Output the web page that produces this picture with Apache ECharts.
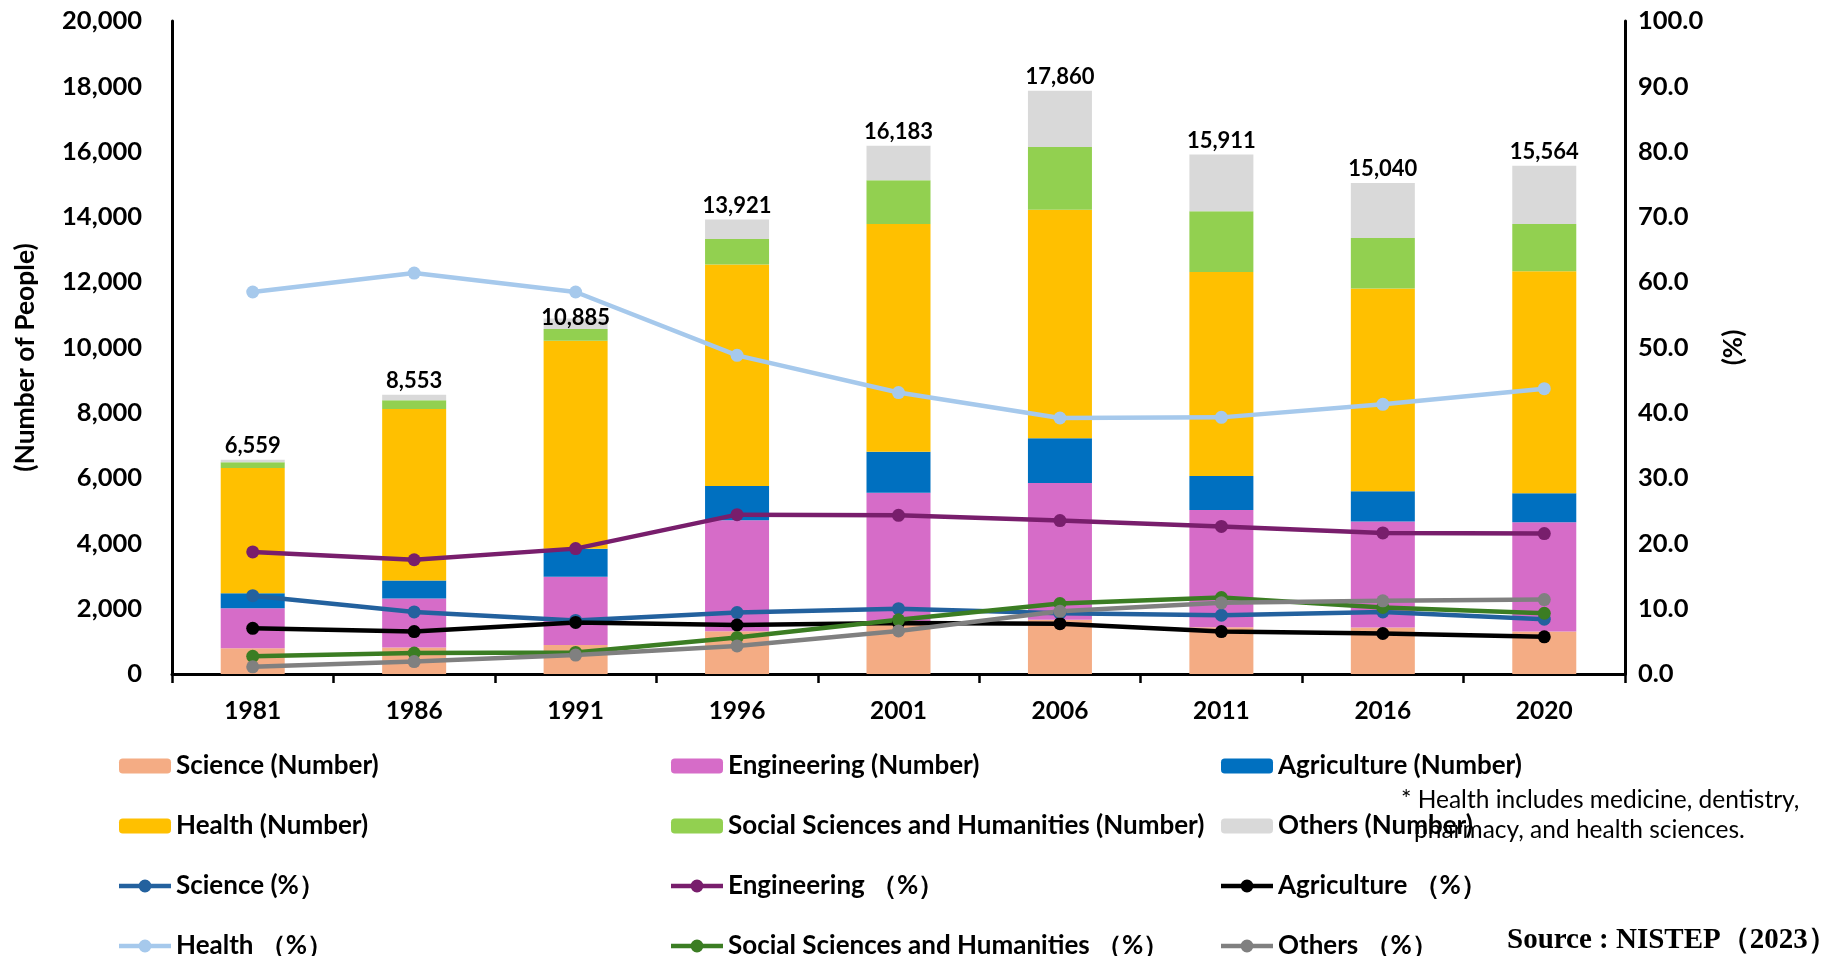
<!DOCTYPE html>
<html><head><meta charset="utf-8">
<script src="https://cdn.jsdelivr.net/npm/echarts@6/dist/echarts.min.js"></script>
<style>html,body{margin:0;padding:0;background:#fff}#c{width:1822px;height:956px}</style>
</head><body><div id="c"></div>
<script>
const years = ['1981','1986','1991','1996','2001','2006','2011','2016','2020'];
const totals = [6559, 8553, 10885, 13921, 16183, 17860, 15911, 15040, 15564];
const scienceNum = [787, 815, 888, 1310, 1620, 1660, 1435, 1425, 1300];
const engineeringNum = [1225, 1497, 2092, 3400, 3930, 4190, 3590, 3245, 3345];
const agricultureNum = [460, 554, 858, 1045, 1260, 1370, 1040, 925, 890];
const healthNum = [3840, 5250, 6370, 6790, 6970, 7000, 6245, 6215, 6800];
const socialNum = [174, 271, 359, 780, 1340, 1920, 1860, 1540, 1450];
const othersNum = [73, 166, 318, 596, 1063, 1720, 1741, 1690, 1779];
const sciencePct = [12.0, 9.5, 8.2, 9.4, 10.0, 9.3, 9.0, 9.5, 8.4];
const engineeringPct = [18.7, 17.5, 19.2, 24.4, 24.3, 23.5, 22.6, 21.6, 21.5];
const agriculturePct = [7.0, 6.5, 7.9, 7.5, 7.8, 7.7, 6.5, 6.2, 5.7];
const healthPct = [58.5, 61.4, 58.5, 48.8, 43.1, 39.2, 39.3, 41.3, 43.7];
const socialPct = [2.7, 3.2, 3.3, 5.6, 8.3, 10.8, 11.7, 10.2, 9.3];
const othersPct = [1.1, 1.9, 2.9, 4.3, 6.6, 9.6, 10.9, 11.2, 11.4];
const leftTicks = {min: 0, max: 20000, interval: 2000};
const rightTicks = {min: 0, max: 100, interval: 10};

const FONT = 'Lato';
const chart = echarts.init(document.getElementById('c'), null, {renderer: 'canvas'});

function bar(name, data, color) {
  return {
    name, type: 'bar', stack: 'num', data, barWidth: 64,
    itemStyle: {color},
    z: 2
  };
}
function line(name, data, color) {
  return {
    name, type: 'line', yAxisIndex: 1, data,
    symbol: 'circle', symbolSize: 13,
    lineStyle: {color, width: 4.5},
    itemStyle: {color},
    z: 5
  };
}
const N = {
  sn: 'Science (Number)', en: 'Engineering (Number)', an: 'Agriculture (Number)',
  hn: 'Health (Number)', son: 'Social Sciences and Humanities (Number)', on: 'Others (Number)',
  sp: 'Science (%\uFF09', ep: 'Engineering \uFF08%\uFF09', ap: 'Agriculture \uFF08%\uFF09',
  hp: 'Health \uFF08%\uFF09', sop: 'Social Sciences and Humanities \uFF08%\uFF09', op: 'Others \uFF08%\uFF09'
};
const LINE_ICON = 'path://M0,5.25 L52,5.25 L52,9.75 L0,9.75 Z M19.5,7.5 A6.5,6.5 0 1 1 32.5,7.5 A6.5,6.5 0 1 1 19.5,7.5 Z';
const li = name => ({name, icon: LINE_ICON});
const legendBase = {
  orient: 'vertical', top: 753, height: 260, padding: 0, itemGap: 34,
  itemWidth: 52, itemHeight: 15,
  textStyle: {fontFamily: FONT, fontWeight: 'bold', fontSize: 26, color: '#000', lineHeight: 26},
  selectedMode: false
};
const axisLabelStyle = {fontFamily: FONT, fontWeight: 'bold', fontSize: 25.5, color: '#000'};

const othersSeries = bar(N.on, othersNum.map((v, i) => i === 2 ? {value: v, label: {offset: [0, 13]}} : v), '#D9D9D9');
othersSeries.label = {
  show: true, position: 'top', distance: 3,
  color: '#000', fontFamily: FONT, fontWeight: 'bold', fontSize: 22,
  formatter: p => totals[p.dataIndex].toLocaleString('en-US')
};

chart.setOption({
  animation: false,
  backgroundColor: '#fff',
  grid: {left: 172, right: 197, top: 21, bottom: 282, containLabel: false},
  legend: [
    Object.assign({}, legendBase, {left: 119, data: [N.sn, N.hn, li(N.sp), li(N.hp)]}),
    Object.assign({}, legendBase, {left: 671, data: [N.en, N.son, li(N.ep), li(N.sop)]}),
    Object.assign({}, legendBase, {left: 1221, data: [N.an, N.on, li(N.ap), li(N.op)]})
  ],
  xAxis: {
    type: 'category', data: years, boundaryGap: true,
    axisLine: {lineStyle: {color: '#000', width: 3}},
    axisTick: {show: true, length: 9, lineStyle: {color: '#000', width: 2.5}},
    axisLabel: Object.assign({margin: 25}, axisLabelStyle, {fontSize: 24.5})
  },
  yAxis: [
    {
      type: 'value', min: leftTicks.min, max: leftTicks.max, interval: leftTicks.interval,
      name: '(Number of People)', nameLocation: 'middle', nameRotate: 90, nameGap: 133,
      nameTextStyle: {fontFamily: FONT, fontWeight: 'bold', fontSize: 26.5, color: '#000', padding: [0, 20, 0, 0]},
      axisLine: {show: true, lineStyle: {color: '#000', width: 3}},
      axisTick: {show: false}, splitLine: {show: false},
      axisLabel: Object.assign({margin: 30, formatter: v => v.toLocaleString('en-US')}, axisLabelStyle)
    },
    {
      type: 'value', min: rightTicks.min, max: rightTicks.max, interval: rightTicks.interval,
      name: '(%)', nameLocation: 'middle', nameRotate: 90, nameGap: 96,
      nameTextStyle: {fontFamily: FONT, fontWeight: 'bold', fontSize: 26, color: '#000'},
      axisLine: {show: true, lineStyle: {color: '#000', width: 3}},
      axisTick: {show: false}, splitLine: {show: false},
      axisLabel: Object.assign({margin: 13, formatter: v => v.toFixed(1)}, axisLabelStyle)
    }
  ],
  series: [
    bar(N.sn, scienceNum, '#F4AC84'),
    bar(N.en, engineeringNum, '#D66CC8'),
    bar(N.an, agricultureNum, '#0070C0'),
    bar(N.hn, healthNum, '#FFC000'),
    bar(N.son, socialNum, '#92D050'),
    othersSeries,
    line(N.sp, sciencePct, '#23619E'),
    line(N.ep, engineeringPct, '#781E6C'),
    line(N.ap, agriculturePct, '#000000'),
    line(N.hp, healthPct, '#A6C9EC'),
    line(N.sop, socialPct, '#3B7D23'),
    line(N.op, othersPct, '#808080')
  ],
  graphic: [
    {type: 'text', left: 1401, top: 788, style: {text: '* Health includes medicine, dentistry,', font: '24.5px Lato', fill: '#000'}},
    {type: 'text', left: 1414, top: 818, style: {text: 'pharmacy, and health sciences.', font: '24.5px Lato', fill: '#000'}},
    {type: 'text', left: 1507, top: 926, style: {text: 'Source : NISTEP\uFF082023\uFF09', font: 'bold 29px "Liberation Serif"', fill: '#000'}}
  ]
});
</script></body></html>
